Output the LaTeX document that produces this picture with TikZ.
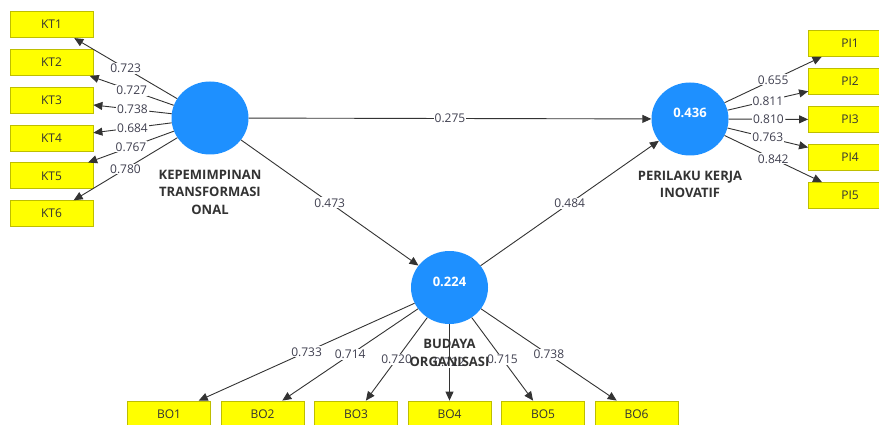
\documentclass[tikz,border=0pt]{standalone}
\usepackage{fontspec}
\setmainfont{Open Sans}
\usetikzlibrary{shapes.geometric,arrows.meta}
\definecolor{lvblue}{RGB}{30,144,255}
\definecolor{indyellow}{RGB}{255,255,0}
\definecolor{indborder}{RGB}{190,190,0}
\definecolor{txtgray}{RGB}{51,51,51}
\definecolor{lblgray}{RGB}{64,64,80}
\begin{document}
\begin{tikzpicture}[x=1pt,y=-1pt,
  lv/.style={ellipse, fill=lvblue, minimum width=77pt, minimum height=73pt, inner sep=0pt, text depth=12pt, text=white, font=\fontsize{13}{15}\selectfont\bfseries},
  ind/.style={rectangle, draw=indborder, fill=indyellow, line width=0.8pt, minimum width=83pt, minimum height=26pt, inner sep=0pt, text=txtgray, font=\fontsize{12}{14}\selectfont},
  lvname/.style={anchor=north, yshift=-15pt, align=center, inner sep=0pt, text=txtgray, font=\fontsize{13}{17.5}\selectfont\bfseries},
  lbl/.style={fill=white, inner sep=1pt, text=lblgray, font=\fontsize{12}{14}\selectfont},
  arr/.style={draw=black!80, line width=0.9pt, -{Triangle[length=9pt,width=8pt]}}]
\clip (0,0) rectangle (879,425);
% latent variables
\node[lv] (kt) at (210,118){};
\node[lv] (pi) at (690,119){0.436};
\node[lv] (bo) at (449.5,287.5){0.224};
% indicators
\node[ind] (kt1) at (51.5,24.7){KT1};
\node[ind] (kt2) at (51.5,62.5){KT2};
\node[ind] (kt3) at (51.5,100.3){KT3};
\node[ind] (kt4) at (51.5,138.1){KT4};
\node[ind] (kt5) at (51.5,175.9){KT5};
\node[ind] (kt6) at (51.5,213.7){KT6};
\node[ind] (pi1) at (850,43.5){PI1};
\node[ind] (pi2) at (850,81.5){PI2};
\node[ind] (pi3) at (850,119.5){PI3};
\node[ind] (pi4) at (850,157.5){PI4};
\node[ind] (pi5) at (850,195.5){PI5};
\node[ind] (bo1) at (169,414){BO1};
\node[ind] (bo2) at (262.5,414){BO2};
\node[ind] (bo3) at (356,414){BO3};
\node[ind] (bo4) at (449.5,414){BO4};
\node[ind] (bo5) at (543,414){BO5};
\node[ind] (bo6) at (636.5,414){BO6};
% outer loadings
\draw[arr](kt) -- node[lbl]{0.723} (kt1);
\draw[arr](kt) -- node[lbl]{0.727} (kt2);
\draw[arr](kt) -- node[lbl]{0.738} (kt3);
\draw[arr](kt) -- node[lbl]{0.684} (kt4);
\draw[arr](kt) -- node[lbl]{0.767} (kt5);
\draw[arr](kt) -- node[lbl]{0.780} (kt6);
\draw[arr](pi) -- node[lbl]{0.655} (pi1);
\draw[arr](pi) -- node[lbl]{0.811} (pi2);
\draw[arr](pi) -- node[lbl]{0.810} (pi3);
\draw[arr](pi) -- node[lbl]{0.763} (pi4);
\draw[arr](pi) -- node[lbl]{0.842} (pi5);
\draw[arr](bo) -- node[lbl]{0.733} (bo1);
\draw[arr](bo) -- node[lbl]{0.714} (bo2);
\draw[arr](bo) -- node[lbl]{0.720} (bo3);
\draw[arr](bo) -- node[lbl]{0.722} (bo4);
\draw[arr](bo) -- node[lbl]{0.715} (bo5);
\draw[arr](bo) -- node[lbl]{0.738} (bo6);
% path coefficients
\draw[arr](kt) -- node[lbl]{0.275} (pi);
\draw[arr](kt) -- node[lbl]{0.473} (bo);
\draw[arr](bo) -- node[lbl]{0.484} (pi);
% names
\node[lvname] (ktname) at (kt.south){KEPEMIMPINAN\\TRANSFORMASI\\ONAL};
\node[lvname] (piname) at (pi.south){PERILAKU KERJA\\INOVATIF};
\node[lvname] (boname) at (bo.south){BUDAYA\\ORGANISASI};
\end{tikzpicture}
\end{document}
